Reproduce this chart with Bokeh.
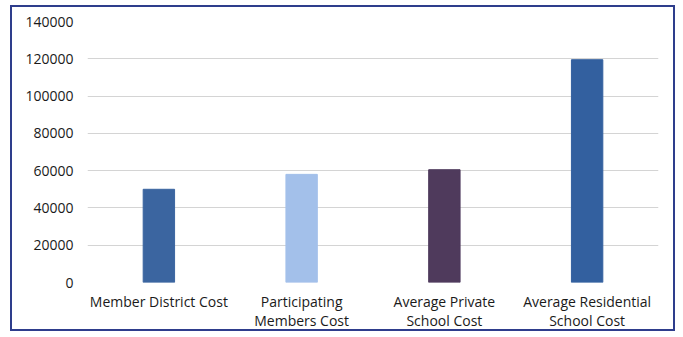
from bokeh.plotting import figure
from bokeh.models import ColumnDataSource, FixedTicker, NumeralTickFormatter
from bokeh.embed import file_html
from bokeh.resources import INLINE

categories = ["Member District Cost", "Participating\nMembers Cost",
              "Average Private\nSchool Cost", "Average Residential\nSchool Cost"]
costs = [50000, 58000, 60500, 119500]
colors = ["#3b65a0", "#a3c0ea", "#4f3a5c", "#33609f"]
y_ticks = [0, 20000, 40000, 60000, 80000, 100000, 120000, 140000]

src = ColumnDataSource(dict(cat=categories, cost=costs, color=colors))

p = figure(x_range=categories, y_range=(0, 140000), width=665, height=326,
           output_backend="svg", toolbar_location=None,
           min_border_left=75, min_border_right=19, min_border_top=14, min_border_bottom=51)
p.styles = {"margin-left": "10px", "margin-top": "5px", "border": "2px solid #2e3d8c"}
p.vbar(x="cat", top="cost", width=0.22, color="color", source=src)

p.outline_line_color = None
p.xgrid.grid_line_color = None
p.ygrid.grid_line_color = "#d4d4d4"
p.ygrid.grid_line_width = 1
p.yaxis.ticker = FixedTicker(ticks=y_ticks)
p.yaxis.formatter = NumeralTickFormatter(format="0")
for ax in (p.xaxis, p.yaxis):
    ax.axis_line_color = None
    ax.major_tick_line_color = None
    ax.minor_tick_line_color = None
    ax.major_label_text_font = "Open Sans"
    ax.major_label_text_font_size = "14px"
    ax.major_label_text_color = "#1a1a1a"
p.yaxis.major_label_standoff = 8
p.xaxis.major_label_standoff = 3
p.xaxis.major_label_text_line_height = 1.0

open("out.html", "w").write(file_html(p, INLINE))
